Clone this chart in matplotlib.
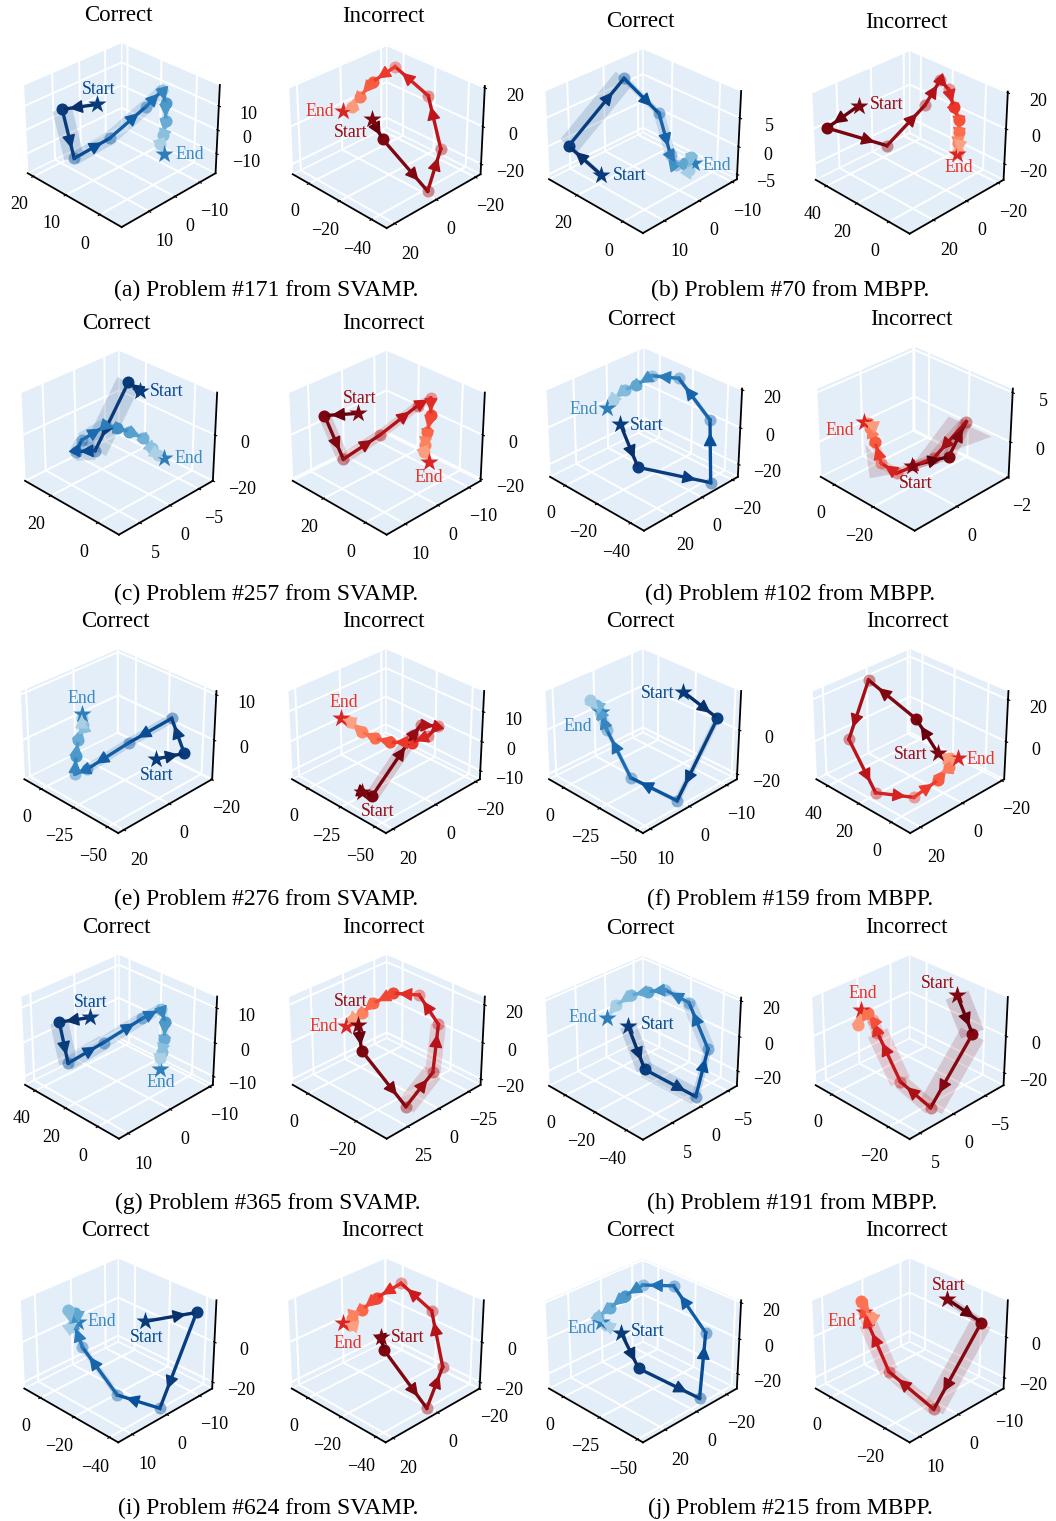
import numpy as np
import matplotlib
matplotlib.use("Agg")
import matplotlib.pyplot as plt
from matplotlib.patches import FancyArrowPatch
from mpl_toolkits.mplot3d import proj3d
from mpl_toolkits.mplot3d.art3d import Poly3DCollection

plt.rcParams['font.family'] = ['Liberation Serif', 'DejaVu Serif']
W, H = 1056, 1521

# trajectories, one x/y/z list per panel, start first and end last
a_c_x = [13.3, 18.0, 12.7, 9.0, 6.0, 4.8, 3.4, 2.1, 1.4, 1.2, 0.0]
a_c_y = [4.1, 11.2, 13.6, 4.9, -5.1, -9.8, -9.2, -7.5, -5.7, -4.3, -3.9]
a_c_z = [8.1, 6.5, -8.9, -2.6, 7.4, 12.6, 8.4, 3.0, -1.6, -4.4, -7.5]
a_i_x = [-12.5, -19.1, -41.2, -38.7, -26.5, -11.6, -6.9, -5.3, -4.3, -2.1]
a_i_y = [2.7, 2.4, -2.2, -10.5, -13.9, -9.4, -2.2, 2.7, 6.0, 8.6]
a_i_z = [2.3, -5.6, -26.1, -9.4, 11.6, 23.1, 17.2, 11.2, 7.3, 5.7]
b_c_x = [17.1, 27.3, 22.6, 11.3, 4.4, 2.1, 0.4, -0.3, -1.3, -1.5]
b_c_y = [10.9, 13.5, 0.8, -1.7, -0.4, -0.5, -1.8, -3.2, -2.0, -3.1]
b_c_z = [-3.28, 0.54, 9.46, 4.84, -0.65, -1.97, -1.75, -0.87, -2.63, -1.75]
b_i_x = [38.1, 44.5, 23.1, 17.6, 16.7, 12.7, 8.4, 4.7, 2.9, 1.4, 0.1, -0.1]
b_i_y = [15.7, 28.5, 13.2, -4.2, -12.6, -13.7, -12.6, -12.2, -10.5, -8.4, -7.2, -6.7]
b_i_z = [8.8, -0.7, -8.2, 8.9, 19.7, 15.7, 8.4, 2.7, -2.3, -7.2, -10.8, -11.7]
c_c_x = [12.1, 15.4, 15.2, 19.1, 19.1, 15.6, 13.1, 10.1, 6.5, 3.7, 1.6, 0.1]
c_c_y = [-3.27, -2.65, 2.90, 4.51, 3.56, 0.97, 0.20, -0.70, -1.58, -1.86, -2.13, -2.46]
c_c_z = [13.9, 16.6, -5.3, -5.6, -1.9, 2.7, 1.9, 0.8, -1.3, -4.6, -6.7, -7.8]
c_i_x = [22.5, 30.2, 20.6, 14.9, 9.5, 7.3, 5.3, 4.1, 3.2, 2.6, 0.4]
c_i_y = [3.3, 8.6, 9.1, 1.6, -6.4, -9.0, -7.7, -5.8, -4.5, -3.9, -3.8]
c_i_z = [7.0, 6.2, -8.4, -0.3, 9.6, 12.1, 6.4, 0.6, -3.7, -5.9, -9.3]
d_c_x = [-10.3, -22.1, -46.2, -36.6, -21.0, -12.6, -9.3, -6.5, -4.5, -4.0]
d_c_y = [11.9, 13.1, -7.0, -16.5, -13.3, -5.4, 0.9, 5.3, 10.4, 13.4]
d_c_z = [0.7, -16.8, -23.0, 2.4, 19.2, 20.3, 16.5, 14.5, 10.4, 7.3]
d_i_x = [-19.5, -27.6, -27.6, -24.1, -16.7, -11.7, -7.4, -4.5, -3.5, -2.3]
d_i_y = [0.11, -0.67, -1.33, -0.39, 0.46, 0.65, 0.57, 0.54, 0.53, 0.59]
d_i_z = [-1.65, -0.93, 1.78, -1.00, -2.22, -1.44, 0.23, 1.27, 1.65, 1.78]
e_c_x = [-40.2, -49.7, -38.5, -27.2, -16.6, -12.9, -10.0, -7.8, -6.9, -5.1, -4.3]
e_c_y = [-4.8, -11.7, -12.8, -0.6, 11.6, 14.9, 12.7, 10.4, 7.6, 7.2, 6.7]
e_c_z = [-2.96, -2.01, 3.88, -0.21, -4.65, -5.49, -2.46, 0.23, 2.76, 3.88, 4.61]
e_i_x = [-23.7, -28.3, -32.2, -33.1, -39.5, -37.9, -33.0, -25.0, -18.8, -12.7, -6.6, -2.5]
e_i_y = [12.8, 10.7, -6.2, -9.1, -13.0, -9.6, -4.9, 0.2, 3.3, 5.7, 7.3, 9.1]
e_i_z = [-12.2, -13.2, 2.1, 4.6, 4.4, 1.9, 0.2, 0.3, 1.3, 3.0, 5.5, 6.3]
f_c_x = [-27.3, -43.2, -43.5, -24.2, -8.3, -2.8, -0.5, 2.5, -3.1]
f_c_y = [-8.6, -11.3, -0.8, 3.7, 3.7, 3.4, 3.4, 4.0, 3.3]
f_c_z = [12.2, 3.3, -24.5, -16.7, -0.7, 5.5, 7.8, 9.4, 5.5]
f_i_x = [7.1, 19.1, 39.7, 36.6, 20.2, 7.8, 3.0, 1.8, 2.8, 0.2]
f_i_y = [-2.9, -1.8, 5.0, 16.8, 16.8, 8.2, 0.3, -3.8, -5.1, -7.1]
f_i_z = [-3.6, 8.8, 23.0, 1.5, -17.9, -19.6, -13.3, -8.5, -5.4, -5.4]
g_c_x = [29.9, 38.6, 29.5, 21.8, 13.5, 9.2, 5.8, 3.6, 2.4, 1.9, 0.2]
g_c_y = [2.6, 6.6, 8.0, 2.5, -3.6, -6.4, -6.1, -5.0, -3.9, -3.3, -2.7]
g_c_z = [5.6, 4.6, -4.4, 0.1, 5.4, 7.5, 4.5, 1.0, -1.9, -3.3, -5.7]
g_i_x = [-5.2, -8.4, -22.9, -24.9, -21.2, -14.4, -9.0, -6.0, -4.7, -3.4, -2.8]
g_i_y = [10.9, 14.7, 8.2, -9.3, -21.1, -19.3, -9.4, 0.6, 7.2, 12.5, 16.0]
g_i_z = [7.3, -3.1, -25.8, -11.9, 7.5, 19.4, 20.1, 16.0, 12.0, 9.3, 6.9]
h_c_x = [-11.8, -24.2, -44.9, -41.2, -27.7, -18.1, -12.8, -8.0, -4.8, -3.9]
h_c_y = [2.16, 2.60, -0.63, -3.75, -4.11, -2.61, -1.04, 0.54, 2.27, 3.60]
h_c_z = [3.8, -15.0, -26.7, -6.2, 13.7, 19.2, 18.5, 17.0, 12.7, 7.3]
h_i_x = [-14.6, -20.6, -19.7, -12.3, -4.1, -2.2, -0.8, -0.1, 0.6]
h_i_y = [-6.10, -5.79, 0.14, 1.45, 1.33, 1.18, 1.31, 2.50, 1.69]
h_i_z = [15.8, 0.1, -29.8, -19.2, 0.6, 5.7, 8.4, 3.7, 9.8]
i_c_x = [-21.6, -35.1, -38.3, -24.2, -7.5, -1.6, -0.5, 1.9, -1.4, -2.6]
i_c_y = [-5.7, -13.8, -1.5, 3.7, 5.3, 4.8, 3.9, 4.6, 5.4, 4.0]
i_c_z = [7.2, 10.6, -24.8, -19.9, -2.3, 6.5, 10.2, 11.5, 5.3, 7.2]
i_i_x = [-14.9, -17.7, -38.5, -37.1, -25.8, -13.0, -8.0, -5.4, -3.8, -4.2, -2.1]
i_i_y = [1.6, 2.4, -0.7, -9.0, -12.8, -9.0, -1.9, 2.9, 6.1, 7.2, 8.6]
i_i_z = [1.6, -3.3, -24.8, -9.5, 11.2, 21.3, 16.0, 11.5, 8.4, 5.9, 6.5]
j_c_x = [-12.2, -23.8, -49.1, -40.2, -21.7, -11.4, -7.1, -4.1, -1.6, -5.8, -3.4]
j_c_y = [8.1, 8.2, -6.3, -18.6, -15.9, -6.3, 1.2, 7.9, 12.9, 11.5, 12.8]
j_c_z = [1.4, -13.5, -26.2, 1.7, 21.6, 22.0, 17.3, 12.1, 8.5, 5.0, 6.4]
j_i_x = [-13.8, -22.1, -21.3, -9.9, -1.8, -0.1, 1.4, -1.8, -0.0]
j_i_y = [-7.9, -10.8, 1.0, 4.4, 4.0, 3.7, 3.4, 3.1, 3.7]
j_i_z = [12.9, 4.3, -27.5, -13.7, 4.0, 8.2, 11.9, 6.4, 8.2]

# the two wide spread areas in the incorrect panel of (d)
fan1_x = [-19.5, -22.6, -35.7]
fan1_y = [0.11, -1.05, -1.66]
fan1_z = [-1.65, 2.17, 0.62]
fan2_x = [-16.7, -10.7, -5.5, -11.5]
fan2_y = [0.46, 1.01, 0.78, 0.64]
fan2_z = [-2.22, -2.60, -0.02, -1.31]

captions = ["(a) Problem #171 from SVAMP.", "(b) Problem #70 from MBPP.",
            "(c) Problem #257 from SVAMP.", "(d) Problem #102 from MBPP.",
            "(e) Problem #276 from SVAMP.", "(f) Problem #159 from MBPP.",
            "(g) Problem #365 from SVAMP.", "(h) Problem #191 from MBPP.",
            "(i) Problem #624 from SVAMP.", "(j) Problem #215 from MBPP."]
cap_pos = [(266, 290.5), (790.5, 290.5), (266, 594.5), (790, 594.5), (266, 899.5), (790, 899.5),
           (268, 1203.5), (792, 1203.5), (268, 1508.5), (790, 1508.5)]

# data, limits, ticks, spread per segment, then layout: box top corner, Start label, End label (pixels)
panels = [
 ((a_c_x, a_c_y, a_c_z), (-6.1, 21.8), (-16.6, 20.2), (-18.5, 18.5), [0, 10, 20], [-10, 0, 10], [-10, 0, 10], [0, 13, 9, 9, 8, 4, 4, 3, 3], (121.7, 40.7), (97.7, 88.3), (188.3, 153.3)),
 ((a_i_x, a_i_y, a_i_z), (-49, 11), (-22.8, 23.7), (-25.6, 20.9), [-40, -20, 0], [-20, 0, 20], [-20, 0, 20], [0, 0, 2, 2, 2, 2, 2], (386.7, 41.7), (350, 131.7), (319, 110)),
 ((b_c_x, b_c_y, b_c_z), (-8.3, 33), (-11.5, 15.9), (-5.9, 9.6), [0, 20], [-10, 0, 10], [-5, 0, 5], [3, 14, 4, 7, 4], (643, 46.7), (628.7, 175), (715.7, 164.3)),
 ((b_i_x, b_i_y, b_i_z), (-12.4, 47.3), (-23.7, 33.8), (-29.4, 20.6), [0, 20, 40], [-20, 0, 20], [-20, 0, 20], [0, 0, 0, 2, 2, 3, 3, 3], (909.7, 47.3), (885.7, 103.3), (957.3, 166)),
 ((c_c_x, c_c_y, c_c_z), (-8.4, 31.6), (-7.5, 8.3), (-20, 17.7), [0, 20], [-5, 0, 5], [-20, 0], [0, 16, 12, 8, 10, 4, 4, 4, 4], (119, 348.3), (165.7, 390.7), (187.7, 457.3)),
 ((c_i_x, c_i_y, c_i_z), (-9.5, 35.5), (-13.9, 15.5), (-21, 18.6), [0, 20], [-10, 0, 10], [-20, 0], [0, 8, 7, 6, 5, 3, 3, 3], (386.7, 348.3), (358.3, 397.7), (427.7, 476.7)),
 ((d_c_x, d_c_y, d_c_z), (-47.6, 9.9), (-23.7, 35.8), (-27, 20.6), [-40, -20, 0], [-20, 0, 20], [-20, 0, 20], [0, 0, 0, 3, 3], (644, 344.3), (645.3, 424.3), (582.3, 408.3)),
 ((d_i_x, d_i_y, d_i_z), (-40.1, 7.5), (-2.05, 1.55), (-3.7, 5.4), [-20, 0], [-2, 0], [0, 5], [5, 8, 8, 6, 6, 6, 4, 4], (914.7, 344.3), (914.7, 482.7), (838.7, 429.3)),
 ((e_c_x, e_c_y, e_c_z), (-57.6, 13.7), (-20.3, 22.4), (-9, 10.8), [-50, -25, 0], [-20, 0, 20], [0, 10], [0, 0, 6, 6, 3, 3], (118.3, 646.7), (156, 775), (81, 697.3)),
 ((e_i_x, e_i_y, e_i_z), (-57.6, 12.8), (-22.3, 23.2), (-13, 16.7), [-50, -25, 0], [-20, 0, 20], [-10, 0, 10], [0, 9, 3, 2, 3, 3, 2, 2], (386, 646.7), (376.7, 811), (342.3, 701.7)),
 ((f_c_x, f_c_y, f_c_z), (-53.4, 10.8), (-12.9, 11.8), (-22.5, 17.1), [-50, -25, 0], [-10, 0, 10], [-20, 0], [0, 4, 3, 3, 7, 4], (643, 646.7), (657, 692.3), (577, 726)),
 ((f_i_x, f_i_y, f_i_z), (-11.2, 47.8), (-21.3, 24.7), (-18.7, 24), [0, 20, 40], [-20, 0, 20], [0, 20], [], (910.3, 646.7), (909.7, 754), (979.7, 758.3)),
 ((g_c_x, g_c_y, g_c_z), (-12.6, 46.9), (-10.9, 12.1), (-12.6, 13.2), [0, 20, 40], [-10, 0, 10], [-10, 0, 10], [0, 12, 10, 8, 7, 6, 5, 3], (119, 952.3), (89.3, 1001.7), (160, 1081.7)),
 ((g_i_x, g_i_y, g_i_z), (-31.8, 6.7), (-35.3, 41.2), (-23.3, 24.3), [-20, 0], [-25, 0, 25], [-20, 0, 20], [0, 0, 13, 10, 2], (386.7, 952.3), (350, 1000.7), (322.7, 1025.7)),
 ((h_c_x, h_c_y, h_c_z), (-50.1, 11.4), (-6.7, 9.9), (-28.8, 21.8), [-40, -20, 0], [-5, 0, 5], [-20, 0, 20], [11, 11, 5, 9, 5, 3, 2], (643, 953.3), (657, 1023.3), (581.3, 1016)),
 ((h_i_x, h_i_y, h_i_z), (-27, 6.1), (-8, 6.5), (-27, 20.6), [-20, 0], [-5, 0, 5], [-20, 0], [16, 17, 10, 14, 8, 3], (909.7, 952.7), (937, 982.3), (862, 992.7)),
 ((i_c_x, i_c_y, i_c_z), (-44.8, 10), (-14, 13.9), (-23.3, 20.1), [-40, -20, 0], [-10, 0, 10], [-20, 0], [0, 0, 0, 4, 4], (118.3, 1256), (145.7, 1336), (101, 1320.3)),
 ((i_i_x, i_i_y, i_i_z), (-45.3, 10.3), (-20.2, 23.2), (-23.3, 20.1), [-40, -20, 0], [-20, 0, 20], [-20, 0], [], (385.7, 1256), (406.7, 1336.7), (346.7, 1342.7)),
 ((j_c_x, j_c_y, j_c_z), (-53.4, 10.6), (-27.1, 33.5), (-28.7, 21.3), [-50, -25, 0], [-20, 0, 20], [-20, 0, 20], [], (643, 1256), (646.3, 1330.7), (580.3, 1327.3)),
 ((j_i_x, j_i_y, j_i_z), (-28.5, 6), (-12.5, 12.5), (-25.6, 17.4), [-20, 0], [-10, 0, 10], [-20, 0], [5, 14, 8, 12, 8], (909.7, 1256), (947.3, 1284.3), (840.7, 1320.7)),
]


class Arrow3D(FancyArrowPatch):
    def __init__(self, xs, ys, zs, **kw):
        super().__init__((0, 0), (0, 0), **kw)
        self._verts3d = xs, ys, zs

    def do_3d_projection(self, renderer=None):
        xs, ys, zs = proj3d.proj_transform(*self._verts3d, self.axes.M)
        self.set_positions((xs[0], ys[0]), (xs[1], ys[1]))
        return np.min(zs)


def draw_panel(fig, idx, panel):
    data, xlim, ylim, zlim, xt, yt, zt, band, top, start_pos, end_pos = panel
    correct = idx % 2 == 0
    cx, cy = top[0], top[1] + 89.33
    ax = fig.add_axes([(cx - 108.4) / W, 1 - (cy + 108.4) / H, 211 / W, 211 / H],
                      projection='3d', computed_zorder=False)
    ax.view_init(elev=30, azim=135)
    ax.set_xlim(*xlim, view_margin=0)
    ax.set_ylim(*ylim, view_margin=0)
    ax.set_zlim(*zlim, view_margin=0)
    ax.set_xticks(xt)
    ax.set_yticks(yt)
    ax.set_zticks(zt)
    ax.tick_params(labelsize=13)
    ax.tick_params(axis='x', pad=3.5)
    ax.tick_params(axis='y', pad=4)
    ax.tick_params(axis='z', pad=4.2)
    for a in (ax.xaxis, ax.yaxis, ax.zaxis):
        a.set_pane_color('#e4eef8')
        a.pane.set_edgecolor('white')
        a._axinfo['grid'].update(color='white', linewidth=1.4)
        a.line.set_linewidth(1.3)

    pts = np.array(data).T
    n = len(pts)
    cmap = plt.cm.Blues if correct else plt.cm.Reds
    cols = cmap(1.0 - 0.75 * (np.arange(n) / (n - 1)) ** 1.2)

    for i, w in zip(range(n - 1), band):
        if w:
            ax.plot(*pts[i:i + 2].T, color=cols[i], alpha=0.17, lw=w * 1.1, zorder=1,
                    solid_capstyle='butt')
    for i in range(1, n - 1):
        ring = 2 <= i <= 5
        ax.scatter(*pts[i], color=cols[i], s=75, alpha=0.45 if ring else 1,
                   depthshade=False, zorder=2, linewidths=0)
    for i in range(n - 1):
        ax.plot(*pts[i:i + 2].T, color=cols[i], lw=2.4, zorder=3)
        tail = pts[i] + 0.68 * (pts[i + 1] - pts[i])
        head = pts[i] + 0.80 * (pts[i + 1] - pts[i])
        ax.add_artist(Arrow3D(*np.c_[tail, head],
                              arrowstyle='-|>,head_length=0.72,head_width=0.36', mutation_scale=11.5,
                              color=cols[i], lw=1, shrinkA=0, shrinkB=0, zorder=4))
    ax.scatter(*pts[0], color=cmap(0.95), marker='*', s=190, depthshade=False, zorder=5, linewidths=0)
    ax.scatter(*pts[-1], color=cmap(0.7), marker='*', s=190, depthshade=False, zorder=3.5, linewidths=0)

    for pos, t, c in ((start_pos, 'Start', cmap(0.9)), (end_pos, 'End', cmap(0.65))):
        fig.text((pos[0] + 1) / W, 1 - (pos[1] + 1) / H, t, color=c, fontsize=12.8, ha='center', va='center')
    fig.text((top[0] - 3) / W, 1 - (top[1] - 25) / H, 'Correct' if correct else 'Incorrect',
             fontsize=16.5, ha='center', va='center')
    return ax


fig = plt.figure(figsize=(W / 100, H / 100), dpi=100)
axes = [draw_panel(fig, i, p) for i, p in enumerate(panels)]

# (d) incorrect has a wide, flaring spread
for xs, ys, zs in ((fan1_x, fan1_y, fan1_z), (fan2_x, fan2_y, fan2_z)):
    poly = Poly3DCollection([list(zip(xs, ys, zs))], facecolor='#67000d', edgecolor='none',
                            alpha=0.15, zorder=1)
    axes[7].add_collection3d(poly)

for t, (x, y) in zip(captions, cap_pos):
    fig.text(x / W, 1 - y / H, t, fontsize=17, ha='center', va='center')

fig.savefig('out.png', dpi=100)
